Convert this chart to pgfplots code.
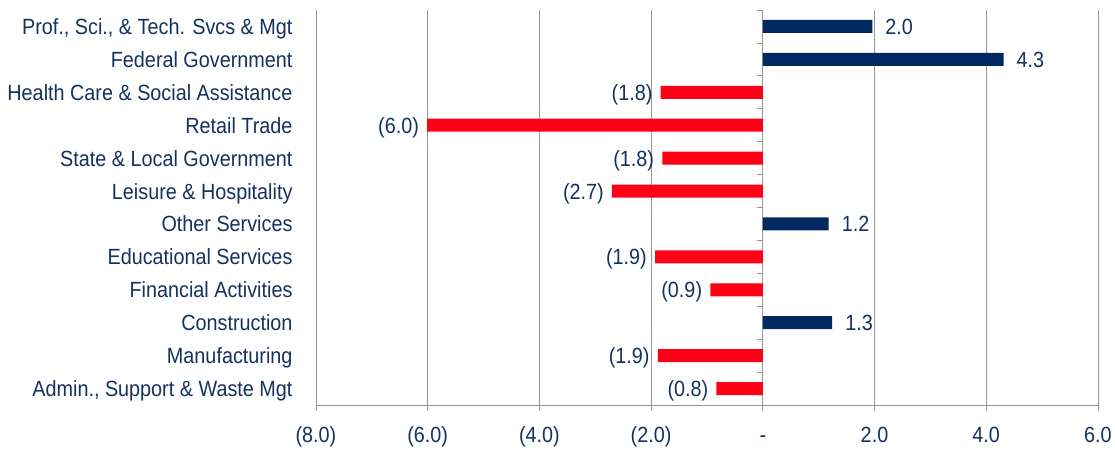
\documentclass[border=0pt]{standalone}
\usepackage{pgfplots}
\pgfplotsset{compat=1.18}
\usepackage{fontspec}
\setmainfont{Liberation Sans}[FakeStretch=0.9]
\definecolor{navybar}{RGB}{0,41,96}
\definecolor{redbar}{RGB}{255,0,22}
\definecolor{txt}{RGB}{20,50,95}
\definecolor{gridc}{RGB}{150,150,150}
\begin{document}
\begin{tikzpicture}
\begin{axis}[
  scale only axis, width=782bp, height=395bp,
  xmin=-8, xmax=6, ymin=0.5, ymax=12.5, y dir=reverse,
  xtick={-8,-6,-4,-2,0,2,4,6},
  xticklabels={(8.0),(6.0),(4.0),(2.0),-,2.0,4.0,6.0},
  ytick={1,2,3,4,5,6,7,8,9,10,11,12},
  yticklabels={{Prof., Sci., \& Tech. Svcs \& Mgt},{Federal Government},{Health Care \& Social Assistance},{Retail Trade},{State \& Local Government},{Leisure \& Hospitality},{Other Services},{Educational Services},{Financial Activities},{Construction},{Manufacturing},{Admin., Support \& Waste Mgt}},
  axis x line*=bottom, axis y line*=left,
  y axis line style={draw=none},
  ytick style={draw=none},
  xmajorgrids, grid style={gridc, line width=0.8bp},
  xtick style={gridc, line width=0.8bp},
  tick align=outside, major tick length=6bp,
  x axis line style={gridc, line width=0.8bp, -},
  ticklabel style={font=\fontsize{22bp}{26bp}\selectfont, text=txt, text height=15bp, text depth=4bp},
  xticklabel style={yshift=-13bp},
  yticklabel style={xshift=-14bp, yshift=-2.5bp},
  xbar, bar width=13bp, bar shift=0pt,
  clip=false,
]
\addplot[fill=navybar, draw=none, nodes near coords, point meta=explicit symbolic,
  every node near coord/.append style={anchor=west, inner sep=0pt, xshift=13bp, yshift=-2.5bp, text=txt, font=\fontsize{22bp}{26bp}\selectfont, text height=15bp, text depth=4bp}]
  table[meta=label] {
x y label
1.96 1 2.0
4.31 2 4.3
1.18 7 1.2
1.24 10 1.3
};
\addplot[fill=redbar, draw=none, nodes near coords, point meta=explicit symbolic,
  every node near coord/.append style={anchor=east, inner sep=0pt, xshift=-8bp, yshift=-2.5bp, text=txt, font=\fontsize{22bp}{26bp}\selectfont, text height=15bp, text depth=4bp}]
  table[meta=label] {
x y label
-1.83 3 (1.8)
-6.01 4 (6.0)
-1.80 5 (1.8)
-2.70 6 (2.7)
-1.93 8 (1.9)
-0.94 9 (0.9)
-1.88 11 (1.9)
-0.83 12 (0.8)
};
\draw[gridc, line width=0.8bp] (axis cs:0,0.5) -- ++(-6bp,0bp);
\draw[gridc, line width=0.8bp] (axis cs:0,1.5) -- ++(-6bp,0bp);
\draw[gridc, line width=0.8bp] (axis cs:0,2.5) -- ++(-6bp,0bp);
\draw[gridc, line width=0.8bp] (axis cs:0,3.5) -- ++(-6bp,0bp);
\draw[gridc, line width=0.8bp] (axis cs:0,4.5) -- ++(-6bp,0bp);
\draw[gridc, line width=0.8bp] (axis cs:0,5.5) -- ++(-6bp,0bp);
\draw[gridc, line width=0.8bp] (axis cs:0,6.5) -- ++(-6bp,0bp);
\draw[gridc, line width=0.8bp] (axis cs:0,7.5) -- ++(-6bp,0bp);
\draw[gridc, line width=0.8bp] (axis cs:0,8.5) -- ++(-6bp,0bp);
\draw[gridc, line width=0.8bp] (axis cs:0,9.5) -- ++(-6bp,0bp);
\draw[gridc, line width=0.8bp] (axis cs:0,10.5) -- ++(-6bp,0bp);
\draw[gridc, line width=0.8bp] (axis cs:0,11.5) -- ++(-6bp,0bp);
\draw[gridc, line width=0.8bp] (axis cs:0,12.5) -- ++(-6bp,0bp);
\end{axis}
\path (current axis.south west) +(-316bp,-45bp) rectangle +(799bp,405bp);
\end{tikzpicture}
\end{document}
